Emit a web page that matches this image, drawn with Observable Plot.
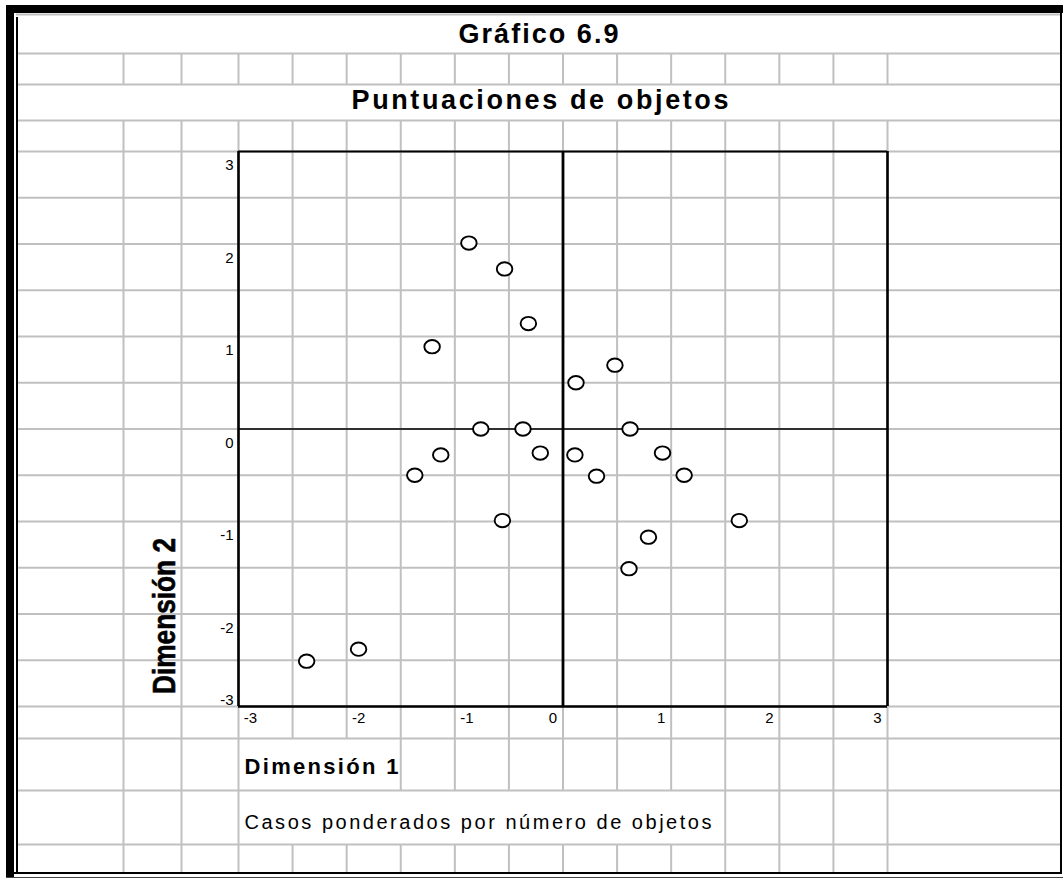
<!DOCTYPE html>
<html>
<head>
<meta charset="utf-8">
<script src="https://cdn.jsdelivr.net/npm/d3@7"></script>
<script src="https://cdn.jsdelivr.net/npm/@observablehq/plot@0.6"></script>
<style>
  html, body { margin: 0; padding: 0; background: #fff; }
  #wrap { position: relative; width: 1063px; height: 879px; overflow: hidden; }
  #wrap svg { position: absolute; left: 0; top: 0; }
  .bd { position: absolute; background: #000; }
</style>
</head>
<body>
<div id="wrap"></div>
<script>
// ---------------- data ----------------
const dim1 = [-0.87, -0.54, -0.32, -1.21, 0.48, 0.12, -0.76, -0.37, 0.62, -1.13, -0.21, 0.11, 0.92, -1.37, 0.31, 1.12, -0.56, 1.63, 0.79, 0.61, -1.89, -2.37];
const dim2 = [2.01, 1.73, 1.14, 0.89, 0.69, 0.50, 0.00, 0.00, 0.00, -0.28, -0.26, -0.28, -0.26, -0.50, -0.51, -0.50, -0.99, -0.99, -1.17, -1.51, -2.38, -2.51];
const xTicks = [-3, -2, -1, 0, 1, 2, 3];
const yTicks = [3, 2, 1, 0, -1, -2, -3];
const titleText = "Gráfico 6.9";
const subtitleText = "Puntuaciones de objetos";
const xLabel = "Dimensión 1";
const yLabel = "Dimensión 2";
const noteText = "Casos ponderados por número de objetos";

// ---------------- layout (spreadsheet page) ----------------
const W = 1063, H = 879;
const M = {left: 238, right: 176, top: 151, bottom: 173};
const X = px => -3 + (px - M.left) * 6 / (W - M.left - M.right);
const Y = py => 3 - (py - M.top) * 6 / (H - M.top - M.bottom);

const colsPx = [123, 181, ...d3.range(13).map(i => M.left + i * (W - M.left - M.right) / 12)];
const rowsPx = [14, 53, 84, 120, ...d3.range(13).map(i => M.top + i * (H - M.top - M.bottom) / 12), 738, 790, 844];
const sheetLeft = 16, sheetRight = 1060;
const bands = [
  {y1: 53, y2: 84, skip: []},
  {y1: 120, y2: 738, skip: []},
  {y1: 738, y2: 790, skip: [3, 4]},
  {y1: 790, y2: 844, skip: [3, 4, 5, 6, 7, 8, 9, 10]},
  {y1: 844, y2: 872, skip: []}
];
const vSegs = [];
bands.forEach(b => colsPx.forEach((c, i) => { if (!b.skip.includes(i)) vSegs.push({x: X(c), y1: Y(b.y1), y2: Y(b.y2)}); }));

const points = dim1.map((x, i) => ({x, y: dim2[i]}));

const ellipse = {
  draw(context, size) {
    const r = Math.sqrt(size / Math.PI);
    const rx = r * 1.08, ry = r * 0.93, k = 0.5523;
    context.moveTo(rx, 0);
    context.bezierCurveTo(rx, k * ry, k * rx, ry, 0, ry);
    context.bezierCurveTo(-k * rx, ry, -rx, k * ry, -rx, 0);
    context.bezierCurveTo(-rx, -k * ry, -k * rx, -ry, 0, -ry);
    context.bezierCurveTo(k * rx, -ry, rx, -k * ry, rx, 0);
    context.closePath();
  }
};

const font = "Liberation Sans, Arial, Helvetica, sans-serif";
const gray = "#c0c0c0";

const chart = Plot.plot({
  width: W,
  height: H,
  marginLeft: M.left,
  marginRight: M.right,
  marginTop: M.top,
  marginBottom: M.bottom,
  x: {domain: [-3, 3], axis: null},
  y: {domain: [-3, 3], axis: null},
  style: {fontFamily: font, background: "transparent", overflow: "visible"},
  marks: [
    // spreadsheet grid
    Plot.ruleY(rowsPx, {y: d => Y(d), x1: X(sheetLeft), x2: X(sheetRight), stroke: gray, strokeWidth: 2}),
    Plot.ruleX(vSegs, {x: "x", y1: "y1", y2: "y2", stroke: gray, strokeWidth: 2}),
    // chart frame
    Plot.ruleX([-3, 3], {x: d => d, y1: -3, y2: 3, stroke: "black", strokeWidth: 2.6}),
    Plot.ruleY([-3], {y: d => d, x1: -3, x2: 3, stroke: "black", strokeWidth: 2.6}),
    Plot.ruleY([3], {y: d => d, x1: -3, x2: 3, stroke: "black", strokeWidth: 1.8}),
    // zero reference lines
    Plot.ruleX([0], {x: d => d, y1: -3, y2: 3, stroke: "black", strokeWidth: 2.8}),
    Plot.ruleY([0], {y: d => d, x1: -3, x2: 3, stroke: "black", strokeWidth: 1.3}),
    // object scores
    Plot.dot(points, {x: "x", y: "y", r: 7.2, symbol: ellipse, fill: "white", stroke: "black", strokeWidth: 1.9}),
    // y tick labels
    Plot.text(yTicks.filter(d => d > -3), {y: d => d, text: d => String(d), frameAnchor: "left", dx: -5, dy: 14, textAnchor: "end", fontSize: 15, fill: "black"}),
    Plot.text(yTicks.filter(d => d === -3), {y: d => d, text: d => String(d), frameAnchor: "left", dx: -5, dy: -6, textAnchor: "end", fontSize: 15, fill: "black"}),
    // x tick labels
    Plot.text(xTicks.filter(d => d < 0), {x: d => d, text: d => String(d), frameAnchor: "bottom", dx: 12, dy: 16.5, textAnchor: "middle", fontSize: 15, fill: "black"}),
    Plot.text(xTicks.filter(d => d >= 0), {x: d => d, text: d => String(d), frameAnchor: "bottom", dx: -10, dy: 16.5, textAnchor: "middle", fontSize: 15, fill: "black"}),
    // titles and labels
    Plot.text([titleText], {x: () => X(538), y: () => Y(33.5), text: d => d, textAnchor: "middle", fontSize: 27, fontWeight: "bold", fill: "black"}),
    Plot.text([subtitleText], {x: () => X(539.5), y: () => Y(100.3), text: d => d, textAnchor: "middle", fontSize: 27, fontWeight: "bold", fill: "black"}),
    Plot.text([xLabel], {x: () => X(244), y: () => Y(766), text: d => d, textAnchor: "start", fontSize: 22, fontWeight: "bold", fill: "black"}),
    Plot.text([noteText], {x: () => X(244), y: () => Y(821.7), text: d => d, textAnchor: "start", fontSize: 20, fill: "black"}),
    Plot.text([yLabel], {x: () => X(164.5), y: () => Y(615.5), text: d => d, rotate: -90, textAnchor: "middle", fontSize: 32, fontWeight: "bold", fill: "black", stroke: "black", strokeWidth: 0.6})
  ]
});

// fit the letter-spaced texts to their widths on the page
const fits = new Map([
  [titleText, {len: 160, adjust: "spacing"}],
  [subtitleText, {len: 377, adjust: "spacing"}],
  [xLabel, {len: 154, adjust: "spacing"}],
  [noteText, {len: 467, adjust: "spacing"}],
  [yLabel, {len: 156, adjust: "spacingAndGlyphs"}]
]);
d3.select(chart).selectAll("text").each(function () {
  const f = fits.get(this.textContent);
  if (f) { this.setAttribute("textLength", f.len); this.setAttribute("lengthAdjust", f.adjust); }
});

const wrap = document.getElementById("wrap");
wrap.appendChild(chart);

// window frame around the sheet
[
  {l: 6, t: 5, w: 8, h: 872},
  {l: 6, t: 5, w: 1057, h: 8},
  {l: 16, t: 17, w: 2, h: 855},
  {l: 1060, t: 13, w: 2, h: 861},
  {l: 6, t: 872, w: 1056, h: 2},
  {l: 6, t: 877, w: 1057, h: 1, c: "#444"}
].forEach(b => {
  const d = document.createElement("div");
  d.className = "bd";
  Object.assign(d.style, {left: b.l + "px", top: b.t + "px", width: b.w + "px", height: b.h + "px"});
  if (b.c) d.style.background = b.c;
  wrap.appendChild(d);
});
</script>
</body>
</html>
